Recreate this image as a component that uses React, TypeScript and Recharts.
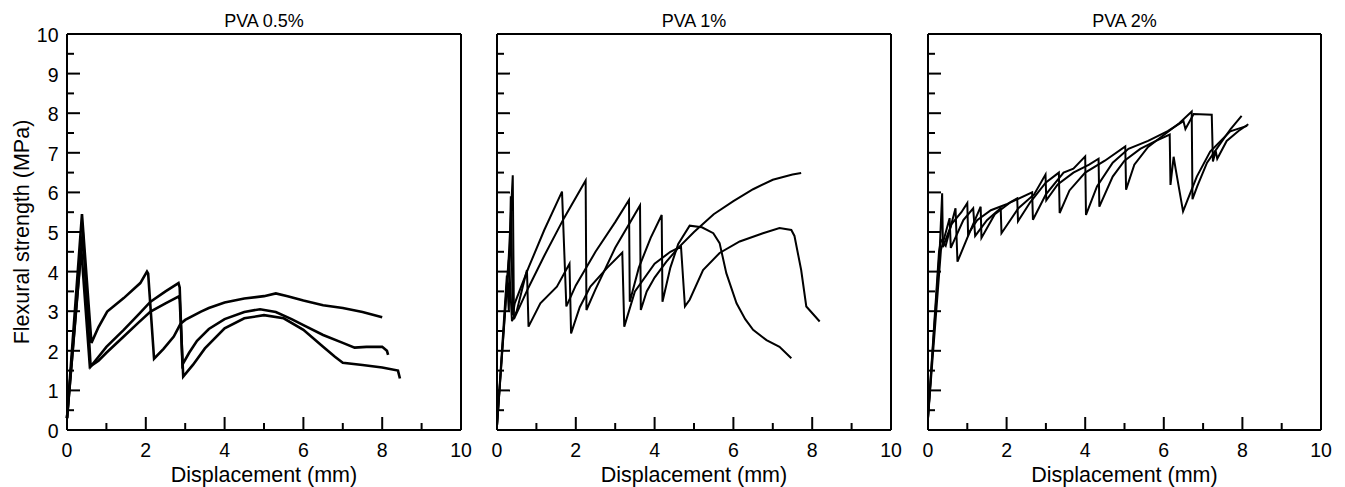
import { Line, LineChart, XAxis, YAxis } from "recharts";

const FONT = "'Liberation Sans', Arial, Helvetica, sans-serif";

type Pt = { x: number; y: number };
const toPts = (rows: number[][]): Pt[] => rows.map(([x, y]) => ({ x, y }));

// axis ticks (minor ticks included, labels only on majors)
const xTicks = [0, 1, 2, 3, 4, 5, 6, 7, 8, 9, 10];
const yTicks = [0, 0.5, 1, 1.5, 2, 2.5, 3, 3.5, 4, 4.5, 5, 5.5, 6, 6.5, 7, 7.5, 8, 8.5, 9, 9.5, 10];

const titles = ["PVA 0.5%", "PVA 1%", "PVA 2%"];

// PVA 0.5%
const pva05A = toPts([
  [0, 0.3], [0.38, 5.45], [0.62, 2.2], [0.8, 2.6], [1.02, 2.99], [1.44, 3.33], [1.86, 3.71],
  [2.03, 4.0], [2.06, 3.95], [2.21, 1.8], [2.45, 2.05], [2.71, 2.36], [2.88, 2.68], [3.0, 2.78],
  [3.4, 2.99], [3.6, 3.08], [4.0, 3.22], [4.5, 3.32], [5.0, 3.38], [5.3, 3.45], [5.6, 3.38],
  [6.0, 3.27], [6.5, 3.15], [7.0, 3.08], [7.5, 2.98], [8.0, 2.85],
]);
const pva05B = toPts([
  [0, 0.3], [0.4, 5.0], [0.6, 1.6], [0.8, 1.85], [1.0, 2.1], [1.44, 2.53], [1.8, 2.9],
  [2.12, 3.24], [2.5, 3.5], [2.83, 3.71], [2.86, 3.6], [2.93, 1.65], [3.1, 1.95], [3.3, 2.25],
  [3.6, 2.55], [4.0, 2.8], [4.5, 2.98], [4.9, 3.05], [5.3, 2.98], [5.7, 2.8], [6.0, 2.65],
  [6.5, 2.4], [7.0, 2.2], [7.3, 2.08], [7.6, 2.1], [8.0, 2.1], [8.12, 2.0], [8.15, 1.9],
]);
const pva05C = toPts([
  [0, 0.3], [0.36, 4.6], [0.58, 1.6], [0.8, 1.75], [1.0, 1.95], [1.44, 2.36], [1.8, 2.7],
  [2.12, 2.99], [2.5, 3.2], [2.83, 3.37], [2.86, 3.3], [2.95, 1.35], [3.2, 1.65], [3.5, 2.06],
  [4.0, 2.57], [4.5, 2.82], [5.0, 2.9], [5.5, 2.82], [6.0, 2.53], [6.5, 2.1], [6.8, 1.85],
  [7.0, 1.7], [7.5, 1.64], [8.0, 1.58], [8.4, 1.5], [8.45, 1.3],
]);

// PVA 1%
const pva1A = toPts([
  [0, 0.1], [0.25, 3.9], [0.3, 3.0], [0.35, 5.9], [0.4, 2.9], [0.45, 3.2], [0.8, 4.1],
  [1.2, 5.05], [1.65, 6.02], [1.76, 3.12], [2.0, 3.65], [2.5, 4.5], [3.0, 5.25], [3.35, 5.81],
  [3.37, 3.24], [3.6, 4.1], [3.9, 4.85], [4.18, 5.43], [4.2, 3.24], [4.4, 4.1], [4.6, 4.7],
  [4.89, 5.16], [5.2, 5.12], [5.49, 4.97], [5.65, 4.72], [5.82, 3.96], [6.08, 3.2], [6.3, 2.8],
  [6.5, 2.53], [6.84, 2.27], [7.17, 2.1], [7.47, 1.81],
]);
const pva1B = toPts([
  [0, 0.1], [0.3, 4.4], [0.4, 6.43], [0.43, 2.8], [0.8, 3.6], [1.2, 4.4], [1.7, 5.35],
  [2.25, 6.3], [2.27, 3.03], [2.5, 3.55], [3.0, 4.6], [3.63, 5.67], [3.65, 3.03], [3.8, 3.5],
  [4.0, 3.85], [4.3, 4.25], [4.6, 4.6], [5.0, 5.0], [5.5, 5.45], [6.0, 5.78], [6.5, 6.08],
  [7.0, 6.32], [7.5, 6.45], [7.72, 6.49],
]);
const pva1C = toPts([
  [0, 0.1], [0.3, 4.3], [0.38, 2.75], [0.5, 3.0], [0.76, 4.04], [0.8, 2.61], [1.1, 3.2],
  [1.52, 3.62], [1.84, 4.2], [1.88, 2.44], [2.1, 3.1], [2.37, 3.62], [2.8, 4.1], [3.18, 4.48],
  [3.23, 2.61], [3.5, 3.5], [4.0, 4.2], [4.4, 4.5], [4.67, 4.63], [4.77, 3.12], [4.89, 3.29],
  [5.23, 4.04], [5.65, 4.47], [6.16, 4.76], [6.75, 4.97], [7.17, 5.1], [7.47, 5.05], [7.55, 4.9],
  [7.72, 4.04], [7.85, 3.12], [7.93, 3.03], [8.19, 2.74],
]);

// PVA 2%
const pva2A = toPts([
  [0, 0.3], [0.3, 4.6], [0.36, 5.98], [0.38, 4.62], [0.6, 5.2], [0.85, 5.5], [1.0, 5.73],
  [1.02, 4.95], [1.25, 5.3], [1.6, 5.55], [2.0, 5.7], [2.27, 5.85], [2.29, 5.27], [2.6, 5.75],
  [3.0, 6.25], [3.33, 6.5], [3.35, 5.48], [3.6, 6.05], [4.0, 6.5], [4.5, 6.8], [5.02, 7.16],
  [5.04, 6.07], [5.25, 6.7], [5.6, 7.15], [6.0, 7.45], [6.4, 7.75], [6.71, 8.04], [6.73, 5.83],
  [6.85, 6.15], [7.1, 6.75], [7.45, 7.25], [7.7, 7.6], [7.98, 7.93],
]);
const pva2B = toPts([
  [0, 0.3], [0.28, 4.5], [0.33, 4.8], [0.45, 4.65], [0.7, 5.6], [0.75, 4.25], [1.0, 4.85],
  [1.34, 5.64], [1.36, 4.85], [1.7, 5.45], [2.1, 5.75], [2.65, 6.0], [2.67, 5.31], [3.0, 5.95],
  [3.45, 6.5], [3.7, 6.6], [4.0, 6.91], [4.02, 5.43], [4.3, 6.15], [4.7, 6.75], [5.1, 7.1],
  [5.6, 7.3], [6.1, 7.55], [6.5, 7.8], [6.55, 7.6], [6.76, 7.98], [7.22, 7.96], [7.25, 6.78],
  [7.32, 7.05], [7.36, 6.85], [7.6, 7.3], [7.9, 7.55], [8.15, 7.72],
]);
const pva2C = toPts([
  [0, 0.3], [0.33, 4.55], [0.55, 5.35], [0.58, 4.6], [0.9, 5.3], [1.15, 5.6], [1.2, 4.9],
  [1.5, 5.3], [1.85, 5.6], [1.87, 4.97], [2.3, 5.6], [2.7, 5.95], [2.99, 6.45], [3.01, 5.8],
  [3.3, 6.2], [3.7, 6.5], [4.1, 6.7], [4.34, 6.85], [4.36, 5.64], [4.7, 6.4], [5.0, 6.8],
  [5.4, 7.1], [5.8, 7.3], [6.15, 7.46], [6.17, 6.19], [6.25, 6.9], [6.3, 6.6], [6.49, 5.52],
  [6.6, 5.8], [6.84, 6.4], [7.18, 7.03], [7.69, 7.54], [8.12, 7.68],
]);

const MAJOR = 13;
const MINOR = 7;
const TICK_FONT = 19.5;

type Side = "bottom" | "top" | "left" | "right";

function makeTick(side: Side, labels: boolean) {
  return (props: any) => {
    const { x, y, payload } = props;
    const v = payload.value as number;
    const horizontal = side === "bottom" || side === "top";
    const major = horizontal ? v % 2 === 0 : Number.isInteger(v);
    const len = major ? MAJOR : MINOR;
    let x2 = x;
    let y2 = y;
    if (side === "bottom") y2 = y - len;
    if (side === "top") y2 = y + len;
    if (side === "left") x2 = x + len;
    if (side === "right") x2 = x - len;
    return (
      <g>
        <line x1={x} y1={y} x2={x2} y2={y2} stroke="#000" strokeWidth={2} />
        {labels && major && side === "bottom" && (
          <text x={x} y={y + 26.7} textAnchor="middle" fontSize={TICK_FONT} fontFamily={FONT} fill="#000">
            {v}
          </text>
        )}
        {labels && major && side === "left" && (
          <text x={x - 8.5} y={y + 8} textAnchor="end" fontSize={TICK_FONT} fontFamily={FONT} fill="#000">
            {v}
          </text>
        )}
      </g>
    );
  };
}

const axisLine = { stroke: "#000", strokeWidth: 2 };

type PanelProps = {
  left: number;
  marginLeft: number;
  width: number;
  marginRight: number;
  curves: Pt[][];
  strokeWidth: number;
  yLabels: boolean;
};

// each axis box is 1px thick, margins are reduced by 1 to keep the plot area in place
function Panel({ left, marginLeft, width, marginRight, curves, strokeWidth, yLabels }: PanelProps) {
  return (
    <div style={{ position: "absolute", left, top: 0 }}>
      <LineChart
        width={width}
        height={487}
        margin={{ top: 33, right: marginRight - 1, bottom: 56, left: marginLeft - 1 }}
      >
        <XAxis
          dataKey="x"
          type="number"
          domain={[0, 10]}
          ticks={xTicks}
          interval={0}
          height={1}
          tickSize={0}
          tickMargin={0}
          tickLine={false}
          axisLine={axisLine}
          tick={makeTick("bottom", true)}
        />
        <XAxis
          xAxisId="top"
          orientation="top"
          dataKey="x"
          type="number"
          domain={[0, 10]}
          ticks={xTicks}
          interval={0}
          height={1}
          tickSize={0}
          tickMargin={0}
          tickLine={false}
          axisLine={axisLine}
          tick={makeTick("top", false)}
        />
        <YAxis
          type="number"
          domain={[0, 10]}
          ticks={yTicks}
          interval={0}
          width={1}
          tickSize={0}
          tickMargin={0}
          tickLine={false}
          axisLine={axisLine}
          tick={makeTick("left", yLabels)}
        />
        <YAxis
          yAxisId="right"
          orientation="right"
          type="number"
          domain={[0, 10]}
          ticks={yTicks}
          interval={0}
          width={1}
          tickSize={0}
          tickMargin={0}
          tickLine={false}
          axisLine={axisLine}
          tick={makeTick("right", false)}
        />
        {curves.map((c, i) => (
          <Line
            key={i}
            data={c}
            dataKey="y"
            type="linear"
            stroke="#000"
            strokeWidth={strokeWidth}
            dot={false}
            activeDot={false}
            isAnimationActive={false}
          />
        ))}
      </LineChart>
    </div>
  );
}

const textBase: React.CSSProperties = {
  position: "absolute",
  fontFamily: FONT,
  color: "#000",
  textAlign: "center",
  whiteSpace: "nowrap",
};

export default function App() {
  const plotCenters = [264, 694, 1124.5];
  return (
    <div style={{ position: "absolute", left: 0, top: 0, width: 1345, height: 487, background: "#fff" }}>
      <Panel left={0} marginLeft={67} width={481} marginRight={20} curves={[pva05A, pva05B, pva05C]} strokeWidth={2.6} yLabels />
      <Panel left={457} marginLeft={40} width={454} marginRight={20} curves={[pva1A, pva1B, pva1C]} strokeWidth={2} yLabels={false} />
      <Panel left={888} marginLeft={40} width={454} marginRight={21} curves={[pva2A, pva2B, pva2C]} strokeWidth={2} yLabels={false} />

      {titles.map((t, i) => (
        <div key={t} style={{ ...textBase, left: plotCenters[i] - 100, width: 200, top: 12, fontSize: 18, lineHeight: "18px" }}>
          {t}
        </div>
      ))}
      {plotCenters.map((c, i) => (
        <div key={i} style={{ ...textBase, left: c - 150, width: 300, top: 465, fontSize: 21.5, lineHeight: "21.5px" }}>
          Displacement (mm)
        </div>
      ))}
      <div
        style={{
          ...textBase,
          left: 22 - 150,
          top: 232 - 12,
          width: 300,
          height: 24,
          fontSize: 21.5,
          lineHeight: "24px",
          transform: "rotate(-90deg)",
        }}
      >
        Flexural strength (MPa)
      </div>
    </div>
  );
}
